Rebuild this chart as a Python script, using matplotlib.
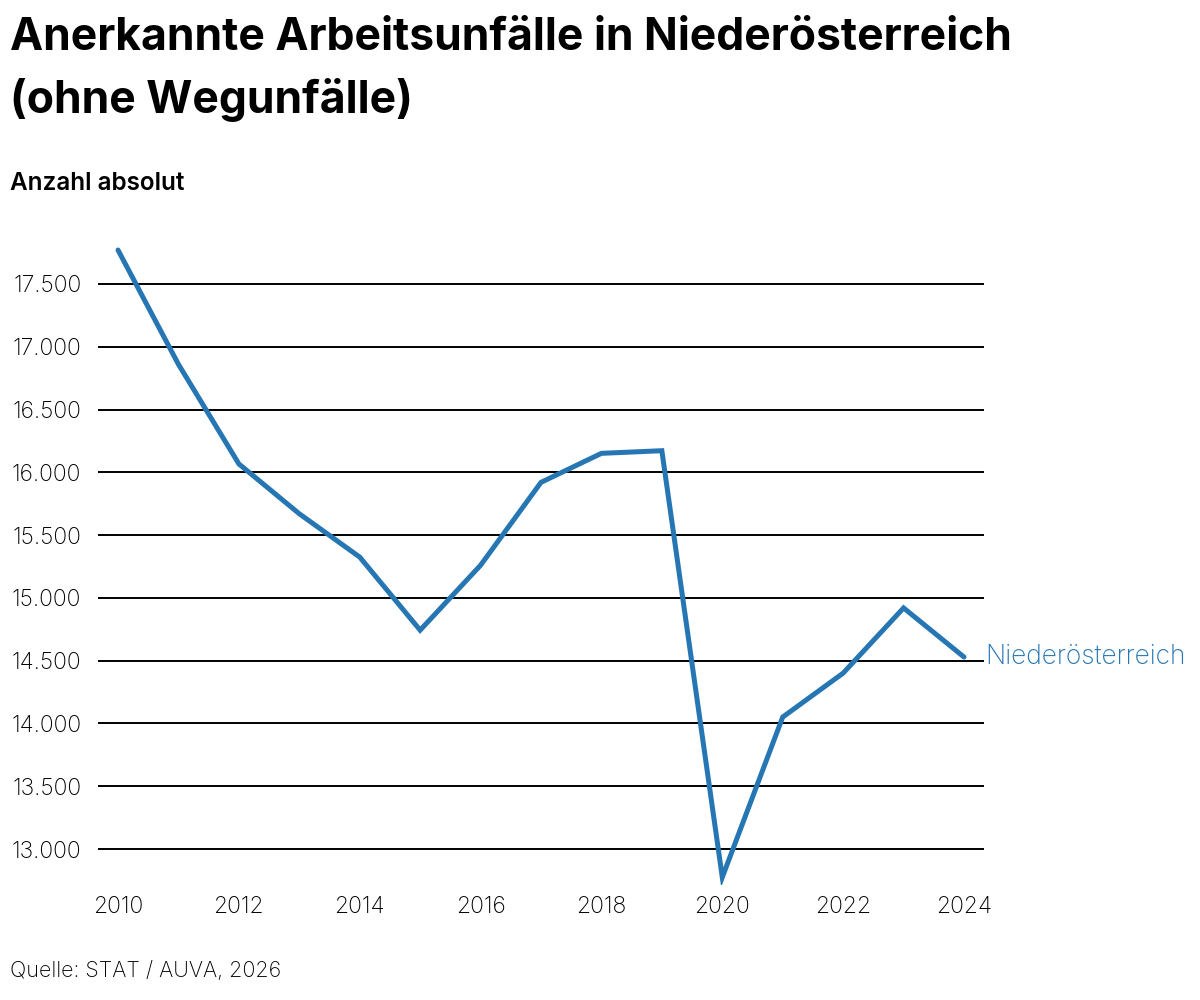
import matplotlib
matplotlib.use("Agg")
import matplotlib.pyplot as plt

years = [2010, 2011, 2012, 2013, 2014, 2015, 2016, 2017, 2018, 2019, 2020, 2021, 2022, 2023, 2024]
unfaelle = [17770, 16860, 16067, 15670, 15325, 14743, 15260, 15920, 16151, 16172, 12775, 14051, 14401, 14920, 14529]
yticks = [13000, 13500, 14000, 14500, 15000, 15500, 16000, 16500, 17000, 17500]
ytick_labels = ["13.000", "13.500", "14.000", "14.500", "15.000", "15.500", "16.000", "16.500", "17.000", "17.500"]
xticks = [2010, 2012, 2014, 2016, 2018, 2020, 2022, 2024]
series_name = "Niederösterreich"
title = "Anerkannte Arbeitsunfälle in Niederösterreich\n(ohne Wegunfälle)"
subtitle = "Anzahl absolut"
source = "Quelle: STAT / AUVA, 2026"

plt.rcParams['font.family'] = ['Inter', 'DejaVu Sans']
blue = "#2576b3"

fig = plt.figure(figsize=(12, 10), dpi=100)
ax = fig.add_axes([98/1200, 1 - 885/1000, (984 - 98)/1200, (885 - 240)/1000])

ax.plot(years, unfaelle, color=blue, lw=3.6, solid_joinstyle='miter', solid_capstyle='round', zorder=3)
ax.set_xlim(2010 - 20/60.43, 2024 + 20/60.43)
ax.set_ylim(13000 - 36*7.95, 17500 + 44*7.95)

ax.set_yticks(yticks)
ax.set_yticklabels(ytick_labels)
ax.set_xticks(xticks)
ax.set_xticklabels([str(x) for x in xticks])
ax.tick_params(axis='both', length=0, labelsize=16.5, colors='black')
ax.tick_params(axis='y', pad=12)
ax.tick_params(axis='x', pad=8)
for lab in ax.get_xticklabels() + ax.get_yticklabels():
    lab.set_fontweight('light')

ax.grid(axis='y', color='black', lw=1.4)
ax.grid(axis='x', visible=False)
ax.set_axisbelow(True)
for s in ax.spines.values():
    s.set_visible(False)

ax.annotate(series_name, xy=(years[-1], unfaelle[-1]), xytext=(15, 0), textcoords='offset points',
            color=blue, fontsize=19, fontweight='light', va='center', ha='left', annotation_clip=False)

fig.text(10/1200, 1 - 17/1000, title, fontsize=32, fontweight='bold', va='top', ha='left', linespacing=1.55)
fig.text(10/1200, 1 - 184/1000, subtitle, fontsize=17.5, fontweight='semibold', va='center', ha='left')
fig.text(10/1200, 1 - 971/1000, source, fontsize=15.5, fontweight='light', va='center', ha='left')

fig.savefig("out.png", dpi=100, facecolor='white')
